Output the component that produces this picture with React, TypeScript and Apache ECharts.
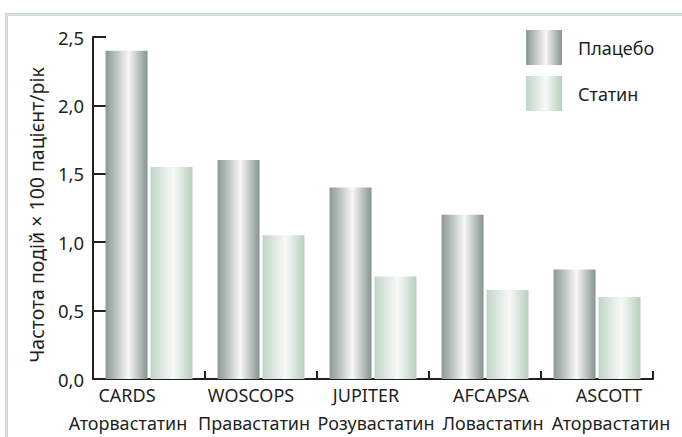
import React, { useEffect, useRef } from "react";
import * as echarts from "echarts";

const trials = ["CARDS", "WOSCOPS", "JUPITER", "AFCAPSA", "ASCOTT"];
const drugs = ["Аторвастатин", "Правастатин", "Розувастатин", "Ловастатин", "Аторвастатин"];
const placebo = [2.4, 1.6, 1.4, 1.2, 0.8];
const statin = [1.55, 1.05, 0.75, 0.65, 0.6];
const seriesNames = ["Плацебо", "Статин"];
const yName = "Частота подій × 100 пацієнт/рік";

const FONT = "'Noto Sans', 'Open Sans', sans-serif";
const INK = "#231f20";
const FRAME = "#d0ddd1";

// label horizontal nudges (px) as laid out in the original figure
const trialShift = [-22, -10, -7, 6, 12];
const drugShift = [-21, -7, 3, 8, 14];

const pad = (dx: number) => (dx < 0 ? [0, -2 * dx, 0, 0] : [0, 0, 0, 2 * dx]);

const grad = (edge: string, mid: string, edge2: string) =>
  new echarts.graphic.LinearGradient(0, 0, 1, 0, [
    { offset: 0, color: edge },
    { offset: 0.55, color: mid },
    { offset: 1, color: edge2 },
  ]);

export default function App() {
  const ref = useRef<HTMLDivElement>(null);
  useEffect(() => {
    if (!ref.current) return;
    const chart = echarts.init(ref.current, undefined, { renderer: "svg" });
    const rich: Record<string, any> = {};
    trials.forEach((_, i) => {
      rich["a" + i] = { fontSize: 18, fontFamily: FONT, color: INK, lineHeight: 28, padding: pad(trialShift[i]) };
      rich["b" + i] = { fontSize: 18, fontFamily: FONT, color: INK, lineHeight: 28, padding: pad(drugShift[i]) };
    });
    chart.setOption({
      animation: false,
      backgroundColor: "#ffffff",
      textStyle: { fontFamily: FONT, color: INK },
      grid: { left: 93, right: 29, top: 37, bottom: 58, containLabel: false },
      legend: {
        orient: "vertical",
        left: 526,
        top: 30,
        padding: 0,
        itemWidth: 36,
        itemHeight: 35,
        itemGap: 11,
        icon: "rect",
        textStyle: { fontSize: 18, color: INK, fontFamily: FONT, padding: [0, 0, 0, 11] },
        data: seriesNames,
      },
      graphic: {
        elements: [
          {
            type: "rect",
            id: "frameLeft",
            shape: { x: 5, y: 13, width: 3, height: 424 },
            style: { fill: FRAME },
            silent: true,
            z: 100,
          },
          {
            type: "rect",
            id: "frameTop",
            shape: { x: 5, y: 13, width: 677, height: 3 },
            style: { fill: FRAME },
            silent: true,
            z: 100,
          },
        ],
      },
      xAxis: {
        type: "category",
        data: trials,
        axisLine: { lineStyle: { color: INK, width: 2 } },
        axisTick: { show: true, inside: true, length: 8, lineStyle: { color: INK, width: 2 } },
        axisLabel: {
          interval: 0,
          margin: 2,
          formatter: (v: string, i: number) => "{a" + i + "|" + v + "}\n{b" + i + "|" + drugs[i] + "}",
          rich,
        },
      },
      yAxis: {
        type: "value",
        min: 0,
        max: 2.5,
        interval: 0.5,
        name: yName,
        nameLocation: "middle",
        nameGap: 46,
        nameTextStyle: { fontSize: 19.5, fontFamily: FONT, color: INK, padding: [0, 14, 0, 0] },
        axisLine: { show: true, lineStyle: { color: INK, width: 2 } },
        axisTick: { show: true, inside: true, length: 13, lineStyle: { color: INK, width: 2 } },
        splitLine: { show: false },
        axisLabel: {
          fontSize: 18.5,
          fontFamily: FONT,
          color: INK,
          margin: 9,
          formatter: (v: number) => v.toFixed(1).replace(".", ","),
        },
      },
      series: [
        {
          name: seriesNames[0],
          type: "bar",
          data: placebo,
          barWidth: 42,
          barGap: "7%",
          itemStyle: { color: grad("#8b9891", "#f6f8f5", "#86938c") },
        },
        {
          name: seriesNames[1],
          type: "bar",
          data: statin,
          barWidth: 42,
          itemStyle: { color: grad("#c2d5c7", "#f7faf7", "#b8cebd") },
        },
      ],
    });
    return () => chart.dispose();
  }, []);
  return (
    <div
      ref={ref}
      style={{ position: "fixed", left: 0, top: 0, width: 682, height: 437 }}
    />
  );
}
